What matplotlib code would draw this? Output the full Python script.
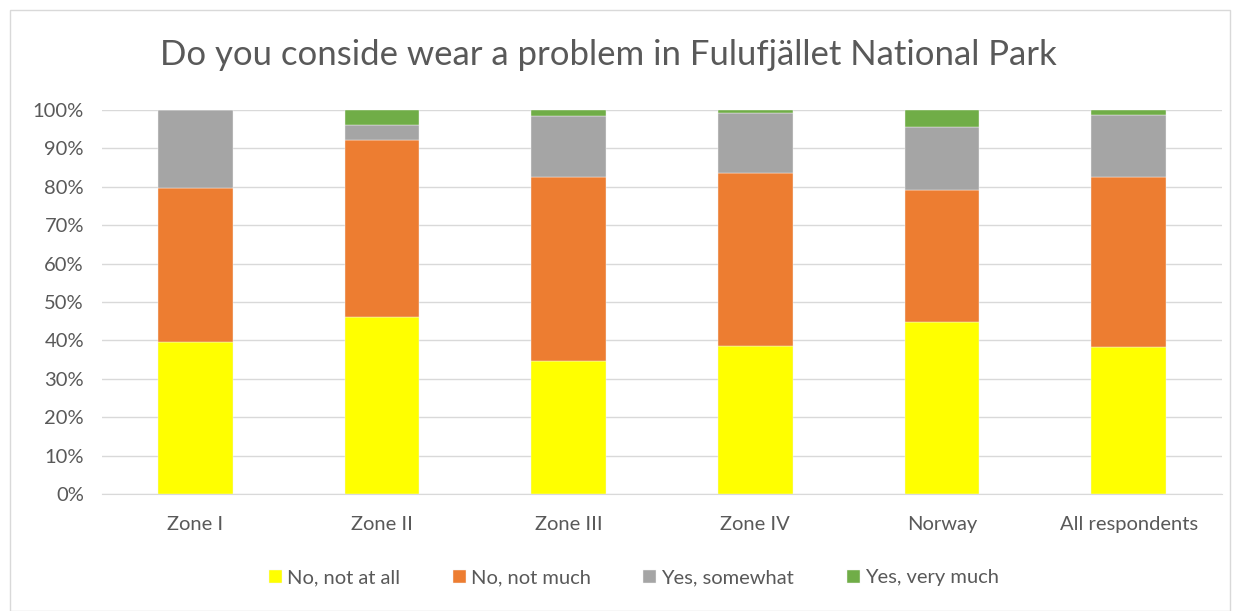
import matplotlib.pyplot as plt
import numpy as np
from matplotlib.patches import Rectangle

CATEGORIES = ["Zone I", "Zone II", "Zone III", "Zone IV", "Norway", "All respondents"]
SERIES = ["No, not at all", "No, not much", "Yes, somewhat", "Yes, very much"]
NOT_AT_ALL = [39.5, 46.1, 34.6, 38.5, 44.7, 38.2]
NOT_MUCH = [40.2, 46.2, 47.9, 45.0, 34.4, 44.4]
SOMEWHAT = [20.3, 3.8, 15.9, 15.8, 16.5, 16.2]
VERY_MUCH = [0.0, 3.9, 1.6, 0.7, 4.4, 1.2]
COLORS = ["#FFFF00", "#ED7D31", "#A5A5A5", "#70AD47"]

plt.rcParams["font.family"] = ["Lato", "DejaVu Sans"]


def run():
    fig = plt.figure(figsize=(12.4, 6.11), dpi=100)
    fig.patches.append(Rectangle((10 / 1240, 0), 1220 / 1240, 1 - 10 / 611,
                                 transform=fig.transFigure, fill=False,
                                 edgecolor="#d9d9d9", linewidth=1))
    ax = fig.add_axes([102 / 1240, 1 - 494 / 611, 1120 / 1240, 384 / 611])

    x = np.arange(len(CATEGORIES))
    bottom = np.zeros(len(CATEGORIES))
    handles = []
    for name, vals, color in zip(SERIES, [NOT_AT_ALL, NOT_MUCH, SOMEWHAT, VERY_MUCH], COLORS):
        vals = np.asarray(vals) / 100
        h = ax.bar(x, vals, 0.4, bottom=bottom, color=color, label=name,
                   edgecolor="#f4f4f4", linewidth=0.3, zorder=3)
        handles.append(h)
        bottom += vals

    ax.set_xlim(-0.5, len(CATEGORIES) - 0.5)
    ax.set_ylim(0, 1)
    ax.set_yticks(np.arange(0, 1.01, 0.1))
    ax.set_yticklabels([f"{int(round(v * 100))}%" for v in np.arange(0, 1.01, 0.1)])
    ax.set_xticks(x)
    ax.set_xticklabels(CATEGORIES)
    ax.yaxis.grid(True, color="#d9d9d9", linewidth=1, zorder=0)
    ax.set_axisbelow(True)
    for side in ["left", "right", "top"]:
        ax.spines[side].set_visible(False)
    ax.spines["bottom"].set_color("#d9d9d9")
    ax.tick_params(axis="both", length=0, labelsize=14.5, labelcolor="#595959")
    ax.tick_params(axis="x", pad=16)
    ax.tick_params(axis="y", pad=13)

    fig.text(608 / 1240, 1 - 55 / 611, "Do you conside wear a problem in Fulufjället National Park",
             ha="center", va="center", fontsize=25, color="#595959")
    fig.legend(handles=handles, loc="center", bbox_to_anchor=(634 / 1240, 1 - 578 / 611),
               ncol=4, frameon=False, fontsize=14.5, labelcolor="#595959",
               handlelength=0.65, handleheight=0.65, handletextpad=0.25, columnspacing=2.6)

    fig.savefig("out.png", dpi=100)


if __name__ == "__main__":
    run()
